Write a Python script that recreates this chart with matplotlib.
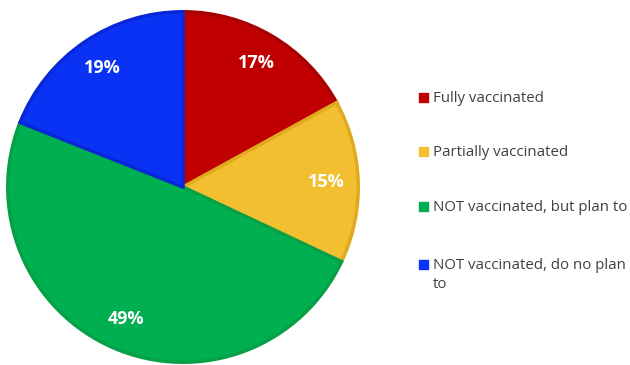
import matplotlib.pyplot as plt
from matplotlib.patches import Rectangle

labels = ["Fully vaccinated", "Partially vaccinated",
          "NOT vaccinated, but plan to", "NOT vaccinated, do no plan\nto"]
shares = [17, 15, 49, 19]
colors = ["#C00000", "#F2BF30", "#00B050", "#0A32F5"]
edges = ["#A80000", "#E0AA1E", "#06A046", "#0828D8"]

plt.rcParams['font.family'] = ['Open Sans', 'DejaVu Sans']

fig = plt.figure(figsize=(6.3, 3.65), dpi=100)
ax = fig.add_axes([6 / 630, 1 / 365, 354 / 630, 354 / 365])

wedges, _, autotexts = ax.pie(
    shares, colors=colors, startangle=90, counterclock=False,
    autopct=lambda p: f"{p:.0f}%", pctdistance=0.82,
    wedgeprops=dict(linewidth=2.5))
for w, ec in zip(wedges, edges):
    w.set_edgecolor(ec)
for t in autotexts:
    t.set_color("white")
    t.set_fontweight("bold")
    t.set_fontsize(13)
ax.set_aspect("equal")
ax.set_xlim(-1.01, 1.01)
ax.set_ylim(-1.01, 1.01)

# legend drawn by hand so the wrapped entry keeps its square on the first line
rows = [97, 151, 206, 264]
for lab, col, y in zip(labels, colors, rows):
    fig.patches.append(Rectangle((419 / 630, 1 - (y + 5) / 365), 9 / 630, 9 / 365,
                                 transform=fig.transFigure, color=col))
    fig.text(433 / 630, 1 - (y - 6) / 365, lab, fontsize=10.8, color="#404040",
             va="top", ha="left", linespacing=1.4)

fig.savefig("out.png", dpi=100)
